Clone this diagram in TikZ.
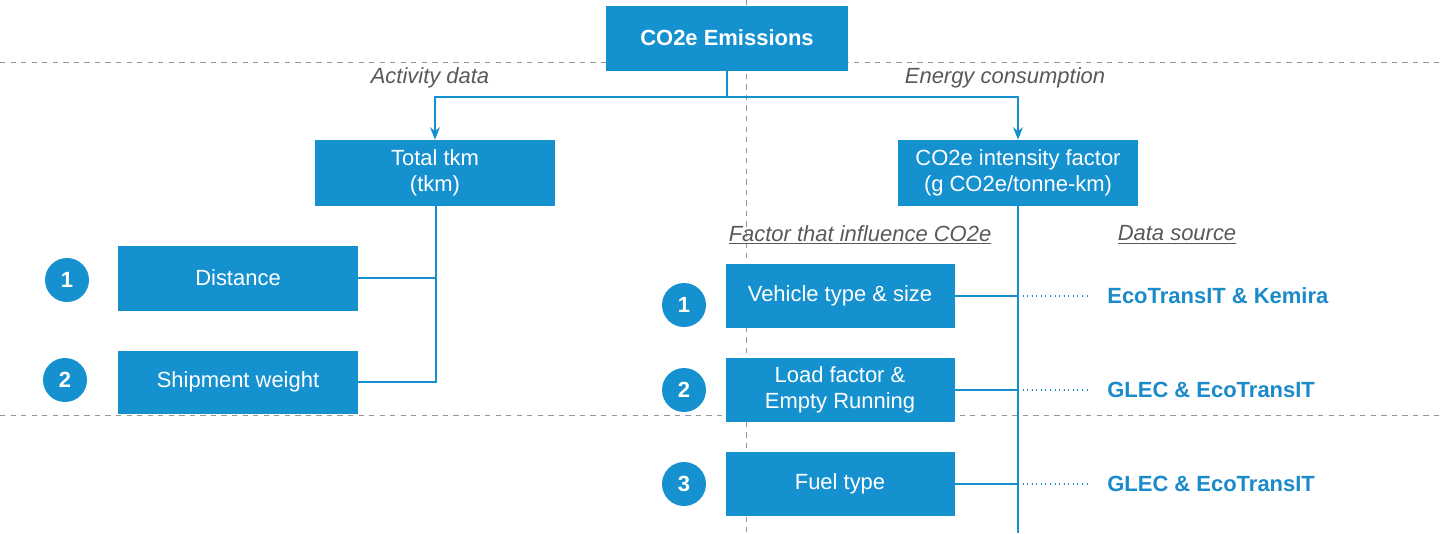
\documentclass[tikz,border=0pt]{standalone}
\usepackage{fontspec}
\setmainfont{Liberation Sans}
\usetikzlibrary{positioning,arrows.meta}
\definecolor{boxblue}{RGB}{21,145,207}
\definecolor{textblue}{RGB}{26,138,203}
\definecolor{linegray}{RGB}{150,150,150}
\tikzset{>={Stealth[length=2.5mm,width=2mm]}}
\tikzset{
  box/.style={fill=boxblue,text=white,align=center,font=\fontsize{12.5}{14.5}\selectfont,inner sep=0pt},
  num/.style={circle,fill=boxblue,text=white,minimum size=8.8mm,inner sep=0pt,font=\bfseries\fontsize{12.5}{14.5}\selectfont},
  conn/.style={draw=boxblue,semithick},
  note/.style={text=black!65,font=\itshape\fontsize{12.5}{14.5}\selectfont},
  source/.style={text=textblue,font=\bfseries\fontsize{12.5}{14.5}\selectfont,anchor=west,inner sep=0pt},
  guide/.style={draw=linegray,dashed,thin}
}
\begin{document}
\begin{tikzpicture}[x=0.2mm,y=-0.2mm]
    \useasboundingbox (0,0) rectangle (1440,533);
    % dashed guides
    \draw[guide] (0,62) -- (1440,62);
    \draw[guide] (0,415) -- (1440,415);
    \draw[guide] (746,0) -- (746,533);
    % boxes
    \node[box,font=\bfseries\fontsize{12.5}{14.5}\selectfont,minimum width=48.4mm,minimum height=13mm](emis) at (727,38) {CO2e Emissions};
    \node[box,minimum width=48mm,minimum height=13.2mm](tkm) at (435,173) {Total tkm\\(tkm)};
    \node[box,minimum width=48mm,minimum height=13.2mm](int) at (1018,173) {CO2e intensity factor\\(g CO2e/tonne-km)};
    \node[box,minimum width=48mm,minimum height=13mm](dist) at (238,278) {Distance};
    \node[box,minimum width=48mm,minimum height=12.6mm](ship) at (238,382) {Shipment weight};
    \node[box,minimum width=45.8mm,minimum height=12.8mm](veh) at (840,296) {Vehicle type \& size};
    \node[box,minimum width=45.8mm,minimum height=12.8mm](load) at (840,390) {Load factor \&\\Empty Running};
    \node[box,minimum width=45.8mm,minimum height=12.8mm](fuel) at (840,484) {Fuel type};
    % numbers
    \node[num](n1) at (67,280) {1};
    \node[num](n2) at (65,380) {2};
    \node[num](m1) at (684,305) {1};
    \node[num](m2) at (684,390) {2};
    \node[num](m3) at (684,484) {3};
    % labels
    \node[note](act) at (430,78) {Activity data};
    \node[note](ene) at (1005,78) {Energy consumption};
    \node[note](fac) at (860,235) {\underline{Factor that influence CO2e}};
    \node[note](dsrc) at (1177,235) {\underline{Data source}};
    % connectors
    \coordinate (split) at (727,97);
    \draw[conn] (emis.south) -- (split);
    \draw[conn,->] (split) -| (tkm.north);
    \draw[conn,->] (split) -| (int.north);
    \coordinate (tkmend) at (436,383);
    \draw[conn] (tkm.south -| tkmend) -- (tkmend);
    \draw[conn] (dist.east) -- (dist.east -| tkmend);
    \draw[conn] (ship.east) -- (ship.east -| tkmend);
    \coordinate (intend) at (1018,533);
    \draw[conn] (int.south) -- (intend);
    \foreach \b/\s/\t in {veh/s1/EcoTransIT \& Kemira,load/s2/GLEC \& EcoTransIT,fuel/s3/GLEC \& EcoTransIT}{
        \draw[conn] (\b.east) -- (\b.east -| intend);
        \node[source](\s) at (\b.east -| 1107,0) {\t};
        \draw[draw=textblue,dotted,semithick] (\b.east -| intend) -- (\b.east -| 1088,0);
    }
\end{tikzpicture}
\end{document}
